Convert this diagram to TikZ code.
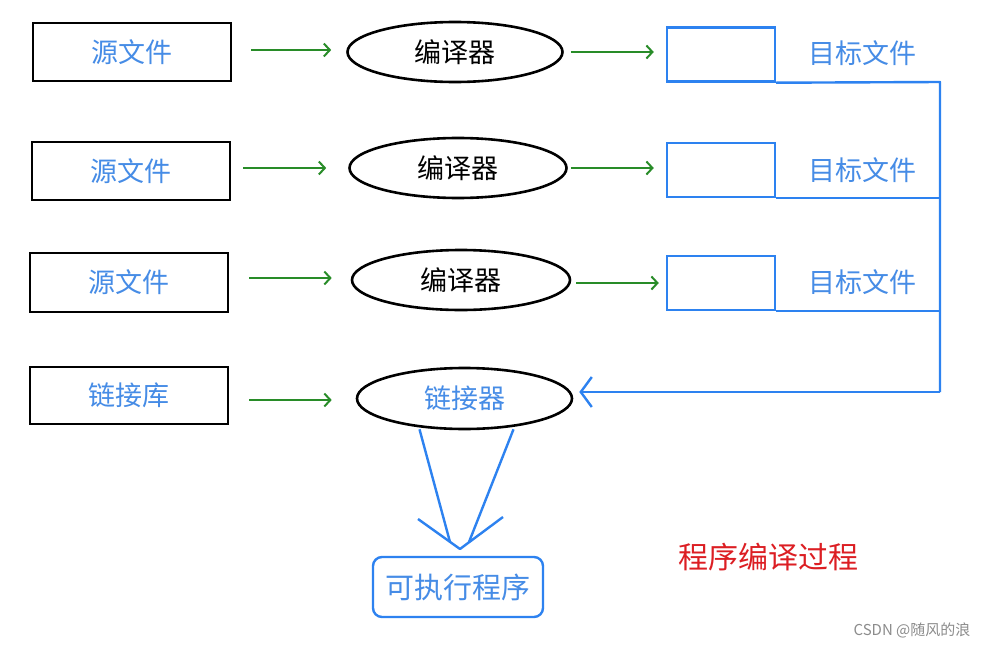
\documentclass[tikz,border=0pt]{standalone}
\usepackage{fontspec}
\usetikzlibrary{shapes.geometric,arrows.meta}
\newfontfamily\cjk{Noto Sans CJK SC}
\definecolor{txtblue}{RGB}{70,140,230}
\definecolor{lnblue}{RGB}{45,130,240}
\definecolor{grn}{RGB}{40,140,40}
\definecolor{redt}{RGB}{220,30,35}
\tikzset{
  srcbox/.style={draw=black,line width=2.6pt,minimum width=198pt,minimum height=58pt,inner sep=0pt,
    font=\cjk\fontsize{27}{27}\selectfont,text=txtblue},
  compell/.style={ellipse,draw=black,line width=2.6pt,minimum width=215pt,minimum height=60pt,inner sep=0pt,
    font=\cjk\fontsize{27}{27}\selectfont,text=black},
  tgtbox/.style={draw=lnblue,line width=2.4pt,minimum width=108pt,minimum height=54pt,inner sep=0pt},
  tgtlabel/.style={font=\cjk\fontsize{27}{27}\selectfont,text=txtblue,inner sep=0pt},
  garrow/.style={draw=grn,line width=2pt,-{Straight Barb[length=6pt,width=13pt,line width=2pt]}},
  bline/.style={draw=lnblue,line width=2.4pt}
}
\begin{document}
\begin{tikzpicture}[x=1pt,y=-1pt]
\useasboundingbox[fill=white] (0,0) rectangle (997,648);
% row 1
\node[srcbox] (src1) at (132,52) {源文件};
\node[compell] (ell1) at (455,52) {编译器};
\node[tgtbox] (tgt1) at (721,54.5) {};
\node[tgtlabel] (lab1) at (862,53) {目标文件};
% row 2
\node[srcbox] (src2) at (131,171) {源文件};
\node[compell,minimum width=217pt] (ell2) at (458,168) {编译器};
\node[tgtbox] (tgt2) at (721,170) {};
\node[tgtlabel] (lab2) at (862,170) {目标文件};
% row 3
\node[srcbox,minimum height=59pt] (src3) at (129,282.5) {源文件};
\node[compell,minimum width=218pt] (ell3) at (461,280) {编译器};
\node[tgtbox] (tgt3) at (721,283) {};
\node[tgtlabel] (lab3) at (862,282) {目标文件};
% row 4
\node[srcbox,minimum height=57pt] (src4) at (129,395.5) {链接库};
\node[compell,minimum height=61pt,text=txtblue] (ell4) at (464.5,398.5) {链接器};
% output
\node[draw=lnblue,line width=2.4pt,rounded corners=9pt,minimum width=170pt,minimum height=60pt,inner sep=0pt,
  font=\cjk\fontsize{29}{29}\selectfont,text=txtblue] (exe) at (458,587) {可执行程序};
% title and mark
\node[font=\cjk\fontsize{30}{30}\selectfont,text=redt,inner sep=0pt] (title) at (768,557) {程序编译过程};
\node[font=\cjk\fontsize{15}{15}\selectfont,text=black!45,inner sep=0pt] (mark) at (912,630) {CSDN @随风的浪};
% green arrows
\draw[garrow,shorten <=19pt,shorten >=15pt] ([yshift=2pt]src1.east) -- ([yshift=2pt]src1.east -| ell1.west);
\draw[garrow,shorten <=7pt,shorten >=12pt] (ell1.east) -- (ell1.east -| tgt1.west);
\draw[garrow,shorten <=12pt,shorten >=22pt] ([yshift=3pt]src2.east) -- ([yshift=3pt]src2.east -| ell2.west);
\draw[garrow,shorten <=3pt,shorten >=12pt] (ell2.east) -- (ell2.east -| tgt2.west);
\draw[garrow,shorten <=20pt,shorten >=19pt] ([yshift=4.5pt]src3.east) -- ([yshift=4.5pt]src3.east -| ell3.west);
\draw[garrow,shorten <=5pt,shorten >=7pt] ([yshift=-3pt]ell3.east) -- ([yshift=-3pt]ell3.east -| tgt3.west);
\draw[garrow,shorten <=20pt,shorten >=24pt] ([yshift=-4.5pt]src4.east) -- ([yshift=-4.5pt]src4.east -| ell4.west);
% blue bus
\coordinate (c1) at (940,82);
\coordinate (c4) at (940,392);
\draw[bline,line join=round] (tgt1.south east) -- (c1) -- (c4);
\draw[bline] (tgt2.south east) -- (tgt2.south east -| c1);
\draw[bline] (tgt3.south east) -- (tgt3.south east -| c1);
\draw[bline,-{Straight Barb[length=11pt,width=30pt,line width=2.4pt]},shorten >=6pt] (c4) -- (c4 -| ell4.east);
% linker to executable
\coordinate (apex) at (460,549);
\draw[bline] ([xshift=-45pt,yshift=1pt]ell4.south) -- ([xshift=-10pt,yshift=7pt]apex);
\draw[bline] ([xshift=49pt,yshift=1pt]ell4.south) -- ([xshift=9pt,yshift=7pt]apex);
\draw[bline,line join=round] ([shift={(-42pt,30pt)}]apex) -- (apex) -- ([shift={(43pt,32pt)}]apex);
\end{tikzpicture}
\end{document}
